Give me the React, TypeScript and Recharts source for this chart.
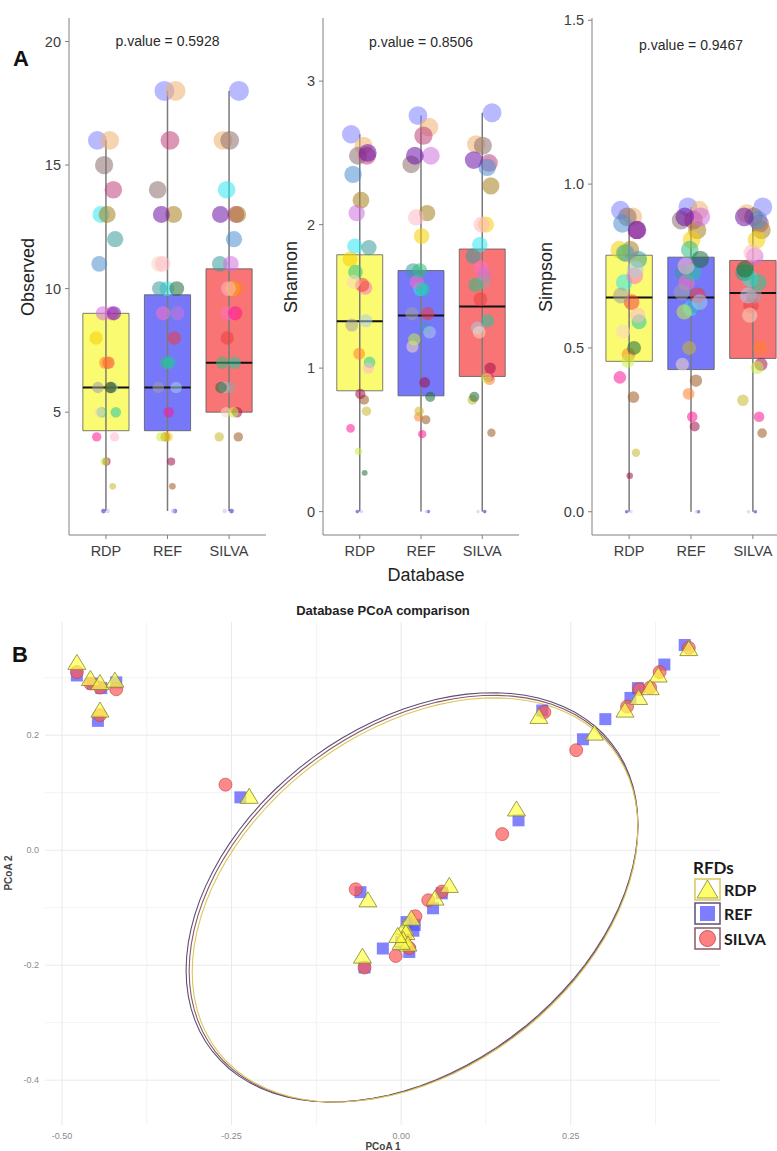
import React from 'react';
import {
  ScatterChart,
  Scatter,
  XAxis,
  YAxis,
  CartesianGrid,
  ReferenceArea,
  ReferenceLine,
  ReferenceDot,
} from 'recharts';

// ---- Panel A: alpha diversity ----
const DATABASES = ['RDP', 'REF', 'SILVA'];
const BOX_FILLS = ['#fbfb72', '#7777fa', '#f97474'];

const SAMPLE_COLORS = [
  '#7f7fff', '#f0b070', '#8c6d6d', '#c0407a', '#30e8f0', '#a8801c', '#3a9a9a',
  '#4f8fcf', '#ff70c0', '#d070e0', '#6a10a8', '#f5d000', '#f03c3c', '#ff7f2a',
  '#a8cce8', '#a0a0a0', '#9a5a20', '#30c080', '#20c8a0', '#f8d8c0', '#a0104a',
  '#c8b830', '#2020c8', '#ffb8c8', '#ff1493', '#1f6b3a', '#c8f040', '#d8b8f8',
];

// per sample, same order as SAMPLE_COLORS
const OBSERVED_RDP = [16, 16, 15, 14, 13, 13, 12, 11, 9, 9, 9, 8, 7, 7, 6, 6, 6, 5, 5, 5, 3, 2, 1, 4, 4, 6, 3, 1];
const OBSERVED_REF = [18, 18, 14, 16, 10, 13, 10, 9, 9, 9, 13, 4, 8, 4, 6, 6, 2, 7, 7, 11, 3, 4, 1, 11, 5, 10, 4, 1];
const OBSERVED_SILVA = [18, 16, 16, 13, 14, 13, 11, 12, 9, 11, 13, 10, 8, 10, 6, 6, 4, 7, 7, 5, 5, 4, 1, 10, 9, 6, 5, 1];

const SHANNON_RDP = [2.63, 2.55, 2.48, 2.48, 1.85, 2.17, 1.84, 2.35, 1.56, 2.08, 2.5, 1.76, 1.58, 1.1, 1.33, 1.3, 0.78, 1.67, 1.04, 1.6, 0.82, 0.7, 0, 1.0, 0.58, 0.27, 0.42, 0];
const SHANNON_REF = [2.76, 2.68, 2.42, 2.62, 1.55, 2.08, 1.68, 1.28, 1.6, 2.48, 2.48, 1.92, 1.38, 0.66, 1.25, 1.38, 0.64, 1.68, 1.55, 1.15, 0.9, 0.7, 0, 2.05, 0.54, 0.8, 1.2, 0];
const SHANNON_SILVA = [2.78, 2.56, 2.55, 2.43, 1.86, 2.27, 1.78, 2.4, 1.7, 1.65, 2.45, 2.0, 1.48, 0.92, 1.28, 1.6, 0.55, 1.58, 1.33, 1.25, 1.0, 0.78, 0, 2.0, 0.94, 0.8, 0.93, 0];

const SIMPSON_RDP = [0.92, 0.9, 0.9, 0.86, 0.7, 0.8, 0.77, 0.88, 0.72, 0.79, 0.86, 0.8, 0.64, 0.48, 0.74, 0.66, 0.35, 0.79, 0.58, 0.55, 0.11, 0.18, 0, 0.6, 0.41, 0.5, 0.46, 0];
const SIMPSON_REF = [0.93, 0.92, 0.89, 0.89, 0.62, 0.86, 0.73, 0.63, 0.7, 0.9, 0.9, 0.83, 0.66, 0.36, 0.64, 0.67, 0.4, 0.8, 0.73, 0.45, 0.26, 0.5, 0, 0.75, 0.29, 0.77, 0.61, 0];
const SIMPSON_SILVA = [0.93, 0.91, 0.9, 0.88, 0.71, 0.86, 0.73, 0.89, 0.65, 0.78, 0.9, 0.83, 0.63, 0.5, 0.66, 0.66, 0.24, 0.73, 0.7, 0.6, 0.45, 0.34, 0, 0.79, 0.29, 0.74, 0.44, 0];

// box stats per database: [lower whisker, q1, median, q3, upper whisker]
const OBSERVED_BOX = [[1, 4.25, 6, 9, 16], [1, 4.25, 6, 9.75, 18], [1, 5, 7, 10.8, 18]];
const SHANNON_BOX = [[0, 0.842, 1.326, 1.79, 2.63], [0, 0.807, 1.366, 1.68, 2.76], [0, 0.942, 1.43, 1.83, 2.78]];
const SIMPSON_BOX = [[0, 0.459, 0.654, 0.783, 0.92], [0, 0.434, 0.654, 0.777, 0.93], [0, 0.468, 0.668, 0.767, 0.93]];

const P_VALUES = ['p.value = 0.5928', 'p.value = 0.8506', 'p.value = 0.9467'];

// horizontal jitter pattern (category units)
const JITTER = [-0.14, 0.06, -0.03, 0.12, -0.08, 0.02, 0.15, -0.11, 0.09, -0.05, 0.13, -0.16, 0.04, -0.01,
  0.1, -0.13, 0.07, -0.07, 0.16, -0.1, 0.01, 0.11, -0.04, 0.14, -0.15, 0.08, -0.02, 0.03];

// ---- Panel B: PCoA ----
const RDP_PC1 = [-0.478, -0.458, -0.444, -0.422, -0.444, -0.224, 0.424, 0.379, 0.367, 0.35, 0.33, 0.285, 0.203, 0.17, -0.049, 0.071, 0.05, -0.057, 0.005, 0.007, 0.003, 0.01, 0.0, 0.015, -0.005];
const RDP_PC2 = [0.325, 0.297, 0.29, 0.294, 0.242, 0.092, 0.349, 0.303, 0.281, 0.264, 0.242, 0.202, 0.231, 0.07, -0.088, -0.063, -0.085, -0.186, -0.136, -0.145, -0.157, -0.165, -0.162, -0.12, -0.15];
const REF_PC1 = [-0.478, -0.455, -0.442, -0.42, -0.447, -0.237, 0.418, 0.388, 0.349, 0.338, 0.301, 0.268, 0.208, 0.173, -0.06, 0.06, 0.047, -0.027, -0.054, 0.008, 0.02, 0.012, 0.018, 0.0];
const REF_PC2 = [0.304, 0.29, 0.282, 0.292, 0.225, 0.092, 0.357, 0.323, 0.282, 0.265, 0.228, 0.193, 0.243, 0.052, -0.073, -0.075, -0.101, -0.171, -0.204, -0.125, -0.13, -0.177, -0.14, -0.16];
const SILVA_PC1 = [-0.478, -0.458, -0.444, -0.42, -0.444, -0.259, 0.424, 0.381, 0.351, 0.367, 0.333, 0.258, 0.211, 0.149, -0.067, 0.06, 0.04, 0.021, -0.008, -0.054, 0.012, 0.006];
const SILVA_PC2 = [0.31, 0.29, 0.283, 0.28, 0.235, 0.114, 0.352, 0.31, 0.28, 0.283, 0.25, 0.174, 0.24, 0.028, -0.068, -0.072, -0.087, -0.115, -0.184, -0.204, -0.17, -0.15];

// stat_ellipse parameters: RDP, REF, SILVA
const ELLIPSE_CX = [0.0205, 0.016, 0.01825];
const ELLIPSE_CY = [-0.0865, -0.082, -0.08425];
const ELLIPSE_SX = [0.3285, 0.333, 0.33075];
const ELLIPSE_SY = [0.3515, 0.356, 0.35375];
const ELLIPSE_R = [0.356, 0.356, 0.356];
const ELLIPSE_COLORS = ['#d8c85a', '#5c4f78', '#8c5a66'];

const FONT = '"Liberation Sans", Arial, sans-serif';

const zip = (xs: number[], ys: number[]) => xs.map((x, i) => ({ x, y: ys[i] }));

function ellipse(g: number) {
  const r = ELLIPSE_R[g];
  const pts = [];
  for (let k = 0; k <= 90; k++) {
    const t = (k / 90) * 2 * Math.PI;
    pts.push({
      x: ELLIPSE_CX[g] + ELLIPSE_SX[g] * Math.cos(t),
      y: ELLIPSE_CY[g] + ELLIPSE_SY[g] * (r * Math.cos(t) + Math.sqrt(1 - r * r) * Math.sin(t)),
    });
  }
  return pts;
}

const NoDot = () => <g />;
const JitterDot = (p: any) => (
  <circle cx={p.cx} cy={p.cy} r={p.payload.r} fill={p.payload.color} fillOpacity={0.55} />
);
const Triangle = (p: any) => (
  <polygon
    points={`${p.cx},${p.cy - 9} ${p.cx - 9},${p.cy + 6} ${p.cx + 9},${p.cy + 6}`}
    fill="#ffff4a" fillOpacity={0.7} stroke="#85852a" strokeWidth={0.8}
  />
);
const Square = (p: any) => (
  <rect x={p.cx - 6} y={p.cy - 6} width={12} height={12} fill="#5252ff" fillOpacity={0.72} />
);
const Circle = (p: any) => (
  <circle cx={p.cx} cy={p.cy} r={6.5} fill="#ff5555" fillOpacity={0.7} stroke="#b84040" strokeWidth={0.6} />
);

interface AlphaProps {
  left: number;
  width: number;
  axisWidth: number;
  right: number;
  domain: [number, number];
  ticks: number[];
  digits: number;
  boxes: number[][];
  values: number[][];
  vMax: number;
  rMax: number;
  pValue: string;
  pY: number;
}

function AlphaPanel(props: AlphaProps) {
  const { left, width, axisWidth, right, domain, ticks, digits, boxes, values, vMax, rMax, pValue, pY } = props;
  const points = values.flatMap((vals, d) =>
    vals.map((v, i) => ({
      x: d + 1 + JITTER[(i + 9 * d) % JITTER.length],
      y: v,
      r: Math.max(1.8, rMax * Math.sqrt(v / vMax)),
      color: SAMPLE_COLORS[i],
    })),
  );
  const tick = { fontSize: 14.5, fill: '#3d3d3d', fontFamily: FONT };
  return (
    <div style={{ position: 'absolute', left, top: 0 }}>
      <ScatterChart width={width} height={560} margin={{ top: 18, right, bottom: 5, left: 0 }}>
        <XAxis
          type="number" dataKey="x" domain={[0.4, 3.6]} ticks={[1, 2, 3]} interval={0}
          tickFormatter={(v: number) => DATABASES[v - 1]} height={20} tickSize={4} tickMargin={7}
          axisLine={{ stroke: '#808080' }} tickLine={{ stroke: '#808080' }} tick={tick} allowDataOverflow
        />
        <YAxis
          type="number" dataKey="y" domain={domain} ticks={ticks} interval={0}
          tickFormatter={(v: number) => v.toFixed(digits)} width={axisWidth} tickSize={4} tickMargin={4}
          axisLine={{ stroke: '#808080' }} tickLine={{ stroke: '#808080' }} tick={tick} allowDataOverflow
        />
        {boxes.map((b, d) => (
          <ReferenceLine key={`w${d}`} segment={[{ x: d + 1, y: b[0] }, { x: d + 1, y: b[4] }]} stroke="#7a7a7a" strokeWidth={1.5} />
        ))}
        {boxes.map((b, d) => (
          <ReferenceArea key={`b${d}`} x1={d + 0.625} x2={d + 1.375} y1={b[1]} y2={b[3]} fill={BOX_FILLS[d]} fillOpacity={1} stroke="#5a5a5a" strokeWidth={0.8} />
        ))}
        <Scatter data={points} shape={JitterDot} isAnimationActive={false} />
        {boxes.map((b, d) => (
          <ReferenceLine key={`m${d}`} segment={[{ x: d + 0.625, y: b[2] }, { x: d + 1.375, y: b[2] }]} stroke="#111" strokeWidth={2} />
        ))}
        <ReferenceDot x={2} y={pY} r={1} fill="none" stroke="none"
          label={{ value: pValue, position: 'center', fontSize: 14, fill: '#2a2a2a', fontFamily: FONT }} />
      </ScatterChart>
    </div>
  );
}

function PcoaPanel() {
  const tick = { fontSize: 9, fill: '#8a8a8a', fontFamily: FONT };
  return (
    <div style={{ position: 'absolute', left: 0, top: 600 }}>
      <ScatterChart width={777} height={551} margin={{ top: 22, right: 57, bottom: 10, left: 0 }}>
        <CartesianGrid stroke="#f3f3f3" verticalValues={[-0.375, -0.125, 0.125, 0.375]} horizontalValues={[-0.3, -0.1, 0.1, 0.3]} />
        <CartesianGrid stroke="#e9e9e9" verticalValues={[-0.5, -0.25, 0, 0.25]} horizontalValues={[-0.4, -0.2, 0, 0.2]} />
        <XAxis
          type="number" dataKey="x" domain={[-0.525, 0.47]} ticks={[-0.5, -0.25, 0, 0.25]} interval={0}
          tickFormatter={(v: number) => v.toFixed(2)} height={16} axisLine={false} tickLine={false}
          tickSize={0} tickMargin={8} tick={tick} allowDataOverflow
        />
        <YAxis
          type="number" dataKey="y" domain={[-0.478, 0.397]} ticks={[-0.4, -0.2, 0, 0.2]} interval={0}
          tickFormatter={(v: number) => v.toFixed(1)} width={45} axisLine={false} tickLine={false}
          tickSize={0} tickMargin={6} tick={tick} allowDataOverflow
        />
        {[1, 2, 0].map((g) => (
          <Scatter key={`e${g}`} data={ellipse(g)} shape={NoDot} line={{ stroke: ELLIPSE_COLORS[g], strokeWidth: 1.1 }}
            lineType="joint" isAnimationActive={false} />
        ))}
        <Scatter data={zip(REF_PC1, REF_PC2)} shape={Square} isAnimationActive={false} />
        <Scatter data={zip(SILVA_PC1, SILVA_PC2)} shape={Circle} isAnimationActive={false} />
        <Scatter data={zip(RDP_PC1, RDP_PC2)} shape={Triangle} isAnimationActive={false} />
      </ScatterChart>
    </div>
  );
}

function Overlay() {
  const title = { fontFamily: FONT, fontSize: 18, fill: '#222' };
  const legend = { fontFamily: 'Lato, "Open Sans", sans-serif', fontWeight: 700, fill: '#1a1a1a' };
  return (
    <svg width={777} height={1151} style={{ position: 'absolute', left: 0, top: 0, pointerEvents: 'none' }}>
      <text x={13} y={66} fontFamily={FONT} fontSize={22} fontWeight={700} fill="#111">A</text>
      <text x={12} y={662} fontFamily={FONT} fontSize={22} fontWeight={700} fill="#111">B</text>
      <text {...title} textAnchor="middle" transform="translate(34,277) rotate(-90)">Observed</text>
      <text {...title} textAnchor="middle" transform="translate(297,277) rotate(-90)">Shannon</text>
      <text {...title} textAnchor="middle" transform="translate(552,277) rotate(-90)">Simpson</text>
      <text {...title} x={426} y={581} textAnchor="middle">Database</text>
      <text x={383} y={615} textAnchor="middle" fontFamily={FONT} fontSize={13} fontWeight={700} fill="#222">
        Database PCoA comparison
      </text>
      <text x={383} y={1150} textAnchor="middle" fontFamily={FONT} fontSize={10} fontWeight={700} fill="#444">PCoA 1</text>
      <text textAnchor="middle" fontFamily={FONT} fontSize={10} fontWeight={700} fill="#444" transform="translate(12,873) rotate(-90)">PCoA 2</text>

      <text x={693} y={874} fontSize={17} {...legend}>RFDs</text>
      <rect x={695} y={879} width={25} height={21} fill="#fff" stroke={ELLIPSE_COLORS[0]} strokeWidth={1.5} />
      <polygon points="707.5,880 697,898 718,898" fill="#ffff4a" fillOpacity={0.8} stroke="#85852a" strokeWidth={0.8} />
      <text x={724} y={896} fontSize={16} {...legend}>RDP</text>
      <rect x={695} y={903} width={25} height={21} fill="#fff" stroke={ELLIPSE_COLORS[1]} strokeWidth={1.5} />
      <rect x={700} y={906} width={15} height={15} fill="#5252ff" fillOpacity={0.75} />
      <text x={724} y={920} fontSize={16} {...legend}>REF</text>
      <rect x={695} y={928} width={25} height={21} fill="#fff" stroke={ELLIPSE_COLORS[2]} strokeWidth={1.5} />
      <circle cx={707.5} cy={938.5} r={8} fill="#ff5555" fillOpacity={0.75} stroke="#b84040" strokeWidth={0.8} />
      <text x={724} y={945} fontSize={16} {...legend}>SILVA</text>
    </svg>
  );
}

export default function App() {
  return (
    <div style={{ position: 'absolute', left: 0, top: 0, width: 777, height: 1151, overflow: 'hidden', background: '#fff' }}>
      <AlphaPanel left={0} width={269} axisWidth={69} right={3} domain={[0.03, 20.95]} ticks={[5, 10, 15, 20]} digits={0}
        boxes={OBSERVED_BOX} values={[OBSERVED_RDP, OBSERVED_REF, OBSERVED_SILVA]} vMax={18} rMax={10}
        pValue={P_VALUES[0]} pY={20} />
      <AlphaPanel left={270} width={251} axisWidth={53} right={2} domain={[-0.163, 3.44]} ticks={[0, 1, 2, 3]} digits={0}
        boxes={SHANNON_BOX} values={[SHANNON_RDP, SHANNON_REF, SHANNON_SILVA]} vMax={2.8} rMax={9.5}
        pValue={P_VALUES[1]} pY={3.27} />
      <AlphaPanel left={525} width={265} axisWidth={67} right={0} domain={[-0.071, 1.507]} ticks={[0, 0.5, 1, 1.5]} digits={1}
        boxes={SIMPSON_BOX} values={[SIMPSON_RDP, SIMPSON_REF, SIMPSON_SILVA]} vMax={0.93} rMax={9.5}
        pValue={P_VALUES[2]} pY={1.426} />
      <PcoaPanel />
      <Overlay />
    </div>
  );
}
